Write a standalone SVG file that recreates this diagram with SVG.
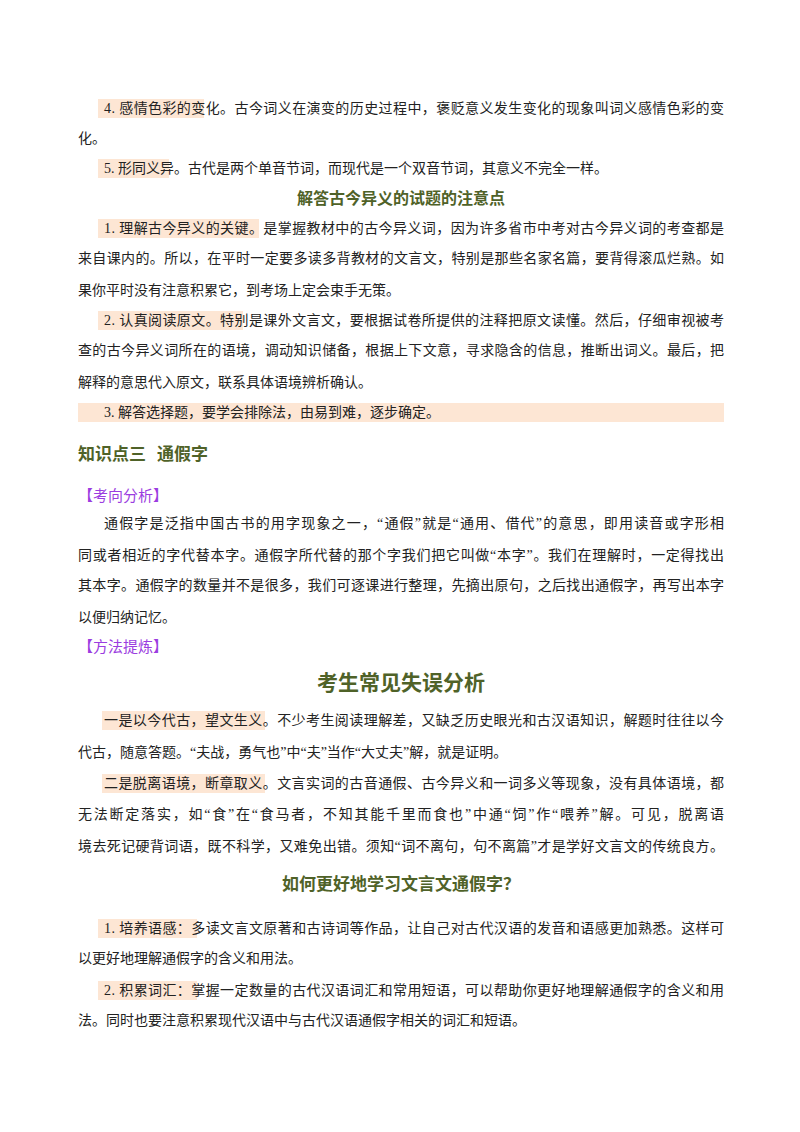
<svg xmlns="http://www.w3.org/2000/svg" width="800" height="1132" viewBox="0 0 800 1132">
<style>
.t{font-family:"Liberation Serif","Noto Sans CJK SC",serif;font-size:14px;fill:#222}
.h{font-family:"Noto Sans CJK SC",sans-serif;font-weight:bold;fill:#4f6228;text-anchor:middle}
.p{font-family:"Noto Sans CJK SC",sans-serif;font-size:15px;fill:#9b3de0}
.hl{fill:#fde6d4}
</style>
<rect width="800" height="1132" fill="#fff"/>
<g id="highlights">
<rect class="hl" x="98" y="99" width="106" height="19"/>
<rect class="hl" x="98" y="159" width="71" height="19"/>
<rect class="hl" x="98" y="219" width="161" height="19"/>
<rect class="hl" x="98" y="311" width="145" height="19"/>
<rect class="hl" x="78" y="403" width="646" height="19"/>
<rect class="hl" x="102" y="711" width="163" height="19"/>
<rect class="hl" x="102" y="774" width="163" height="19"/>
<rect class="hl" x="98" y="919" width="99" height="19"/>
<rect class="hl" x="98" y="981" width="99" height="19"/>
</g>
<g id="text">
<text class="t" x="104" y="113" textLength="620" lengthAdjust="spacing">4. 感情色彩的变化。古今词义在演变的历史过程中，褒贬意义发生变化的现象叫词义感情色彩的变</text>
<text class="t" x="78" y="143">化。</text>
<text class="t" x="104" y="173">5. 形同义异。古代是两个单音节词，而现代是一个双音节词，其意义不完全一样。</text>
<text class="h" x="401" y="204" font-size="16">解答古今异义的试题的注意点</text>
<text class="t" x="104" y="233" textLength="620" lengthAdjust="spacing">1. 理解古今异义的关键。是掌握教材中的古今异义词，因为许多省市中考对古今异义词的考查都是</text>
<text class="t" x="78" y="263" textLength="646" lengthAdjust="spacing">来自课内的。所以，在平时一定要多读多背教材的文言文，特别是那些名家名篇，要背得滚瓜烂熟。如</text>
<text class="t" x="78" y="295">果你平时没有注意积累它，到考场上定会束手无策。</text>
<text class="t" x="104" y="325" textLength="620" lengthAdjust="spacing">2. 认真阅读原文。特别是课外文言文，要根据试卷所提供的注释把原文读懂。然后，仔细审视被考</text>
<text class="t" x="78" y="355" textLength="646" lengthAdjust="spacing">查的古今异义词所在的语境，调动知识储备，根据上下文意，寻求隐含的信息，推断出词义。最后，把</text>
<text class="t" x="78" y="387">解释的意思代入原文，联系具体语境辨析确认。</text>
<text class="t" x="104" y="417">3. 解答选择题，要学会排除法，由易到难，逐步确定。</text>
<text class="h" x="78" y="460" font-size="17" style="text-anchor:start">知识点三<tspan x="157">通假字</tspan></text>
<text class="p" x="78" y="501">【考向分析】</text>
<text class="t" x="104" y="528" textLength="620" lengthAdjust="spacing">通假字是泛指中国古书的用字现象之一，“通假”就是“通用、借代”的意思，即用读音或字形相</text>
<text class="t" x="78" y="560" textLength="646" lengthAdjust="spacing">同或者相近的字代替本字。通假字所代替的那个字我们把它叫做“本字”。我们在理解时，一定得找出</text>
<text class="t" x="78" y="590" textLength="646" lengthAdjust="spacing">其本字。通假字的数量并不是很多，我们可逐课进行整理，先摘出原句，之后找出通假字，再写出本字</text>
<text class="t" x="78" y="622">以便归纳记忆。</text>
<text class="p" x="78" y="652">【方法提炼】</text>
<text class="h" x="401" y="690" font-size="21">考生常见失误分析</text>
<text class="t" x="104" y="725" textLength="620" lengthAdjust="spacing">一是以今代古，望文生义。不少考生阅读理解差，又缺乏历史眼光和古汉语知识，解题时往往以今</text>
<text class="t" x="78" y="757">代古，随意答题。“夫战，勇气也”中“夫”当作“大丈夫”解，就是证明。</text>
<text class="t" x="104" y="788" textLength="620" lengthAdjust="spacing">二是脱离语境，断章取义。文言实词的古音通假、古今异义和一词多义等现象，没有具体语境，都</text>
<text class="t" x="78" y="819" textLength="646" lengthAdjust="spacing">无法断定落实，如“食”在“食马者，不知其能千里而食也”中通“饲”作“喂养”解。可见，脱离语</text>
<text class="t" x="78" y="851" textLength="646" lengthAdjust="spacing">境去死记硬背词语，既不科学，又难免出错。须知“词不离句，句不离篇”才是学好文言文的传统良方。</text>
<text class="h" x="401" y="890" font-size="17">如何更好地学习文言文通假字？</text>
<text class="t" x="104" y="933" textLength="620" lengthAdjust="spacing">1. 培养语感：多读文言文原著和古诗词等作品，让自己对古代汉语的发音和语感更加熟悉。这样可</text>
<text class="t" x="78" y="963">以更好地理解通假字的含义和用法。</text>
<text class="t" x="104" y="995" textLength="620" lengthAdjust="spacing">2. 积累词汇：掌握一定数量的古代汉语词汇和常用短语，可以帮助你更好地理解通假字的含义和用</text>
<text class="t" x="78" y="1025">法。同时也要注意积累现代汉语中与古代汉语通假字相关的词汇和短语。</text>
</g>
</svg>
